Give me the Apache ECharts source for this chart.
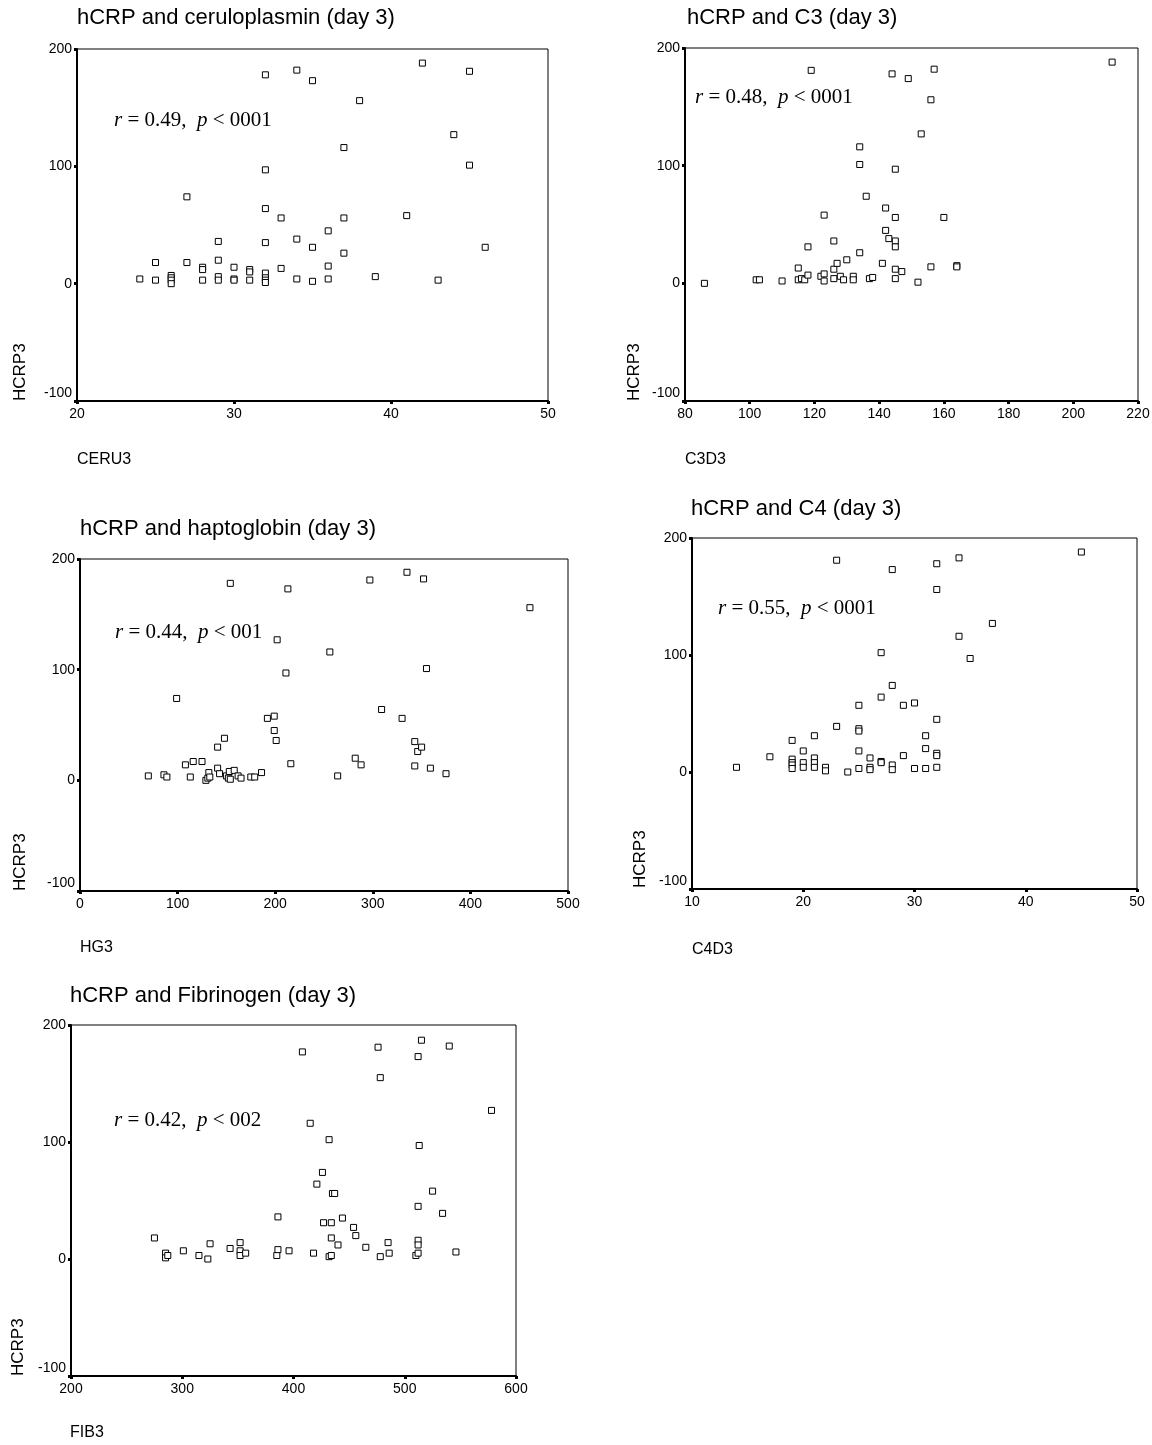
<!DOCTYPE html>
<html>
<head>
<meta charset="utf-8">
<title>hCRP correlations (day 3)</title>
<script src="https://cdn.jsdelivr.net/npm/echarts@6/dist/echarts.min.js"></script>
<style>
  html, body { margin: 0; padding: 0; background: #fff; }
  #chart { width: 1152px; height: 1445px; }
</style>
</head>
<body>
<div id="chart"></div>
<script>
// values, [x, HCRP3]
var ceruloplasmin = [
  [24, 4], [25, 18], [25, 3], [26, 7], [26, 5], [26, 3], [26, 0], [27, 74], [27, 18],
  [28, 14], [28, 12], [28, 3], [29, 36], [29, 20], [29, 6], [29, 3], [30, 14], [30, 4],
  [30, 3], [31, 12], [31, 10], [31, 3], [32, 178], [32, 97], [32, 64], [32, 35],
  [32, 9], [32, 5], [32, 3], [32, 1], [33, 56], [33, 13], [34, 182], [34, 38], [34, 4],
  [35, 173], [35, 31], [35, 2], [36, 45], [36, 15], [36, 4], [37, 116], [37, 56],
  [37, 26], [38, 156], [39, 6], [41, 58], [42, 188], [43, 3], [44, 127], [45, 181],
  [45, 101], [46, 31]
];
var c3 = [
  [86, 0], [102, 3], [103, 3], [110, 2], [115, 13], [115, 3], [116, 4], [117, 3],
  [118, 31], [118, 7], [119, 181], [122, 6], [123, 58], [123, 8], [123, 2], [126, 36],
  [126, 12], [126, 4], [127, 17], [128, 6], [129, 3], [130, 20], [132, 6], [132, 3],
  [134, 116], [134, 101], [134, 26], [136, 74], [137, 4], [138, 5], [141, 17], [142, 64],
  [142, 45], [143, 38], [144, 178], [145, 97], [145, 56], [145, 36], [145, 31], [145, 12],
  [145, 4], [147, 10], [149, 174], [152, 1], [153, 127], [156, 156], [156, 14], [157, 182],
  [160, 56], [164, 15], [164, 14], [212, 188]
];
var haptoglobin = [
  [70, 4], [86, 5], [89, 3], [99, 74], [108, 14], [113, 3], [116, 17], [125, 17],
  [129, 0], [131, 2], [132, 7], [133, 3], [141, 30], [141, 11], [143, 6], [148, 38],
  [150, 4], [152, 2], [153, 8], [154, 1], [154, 178], [158, 9], [162, 4], [165, 2],
  [175, 3], [179, 3], [186, 7], [192, 56], [199, 58], [199, 45], [201, 36], [202, 127],
  [211, 97], [213, 173], [216, 15], [256, 116], [264, 4], [282, 20], [288, 14], [297, 181],
  [309, 64], [330, 56], [335, 188], [343, 35], [343, 13], [346, 26], [350, 30], [352, 182],
  [355, 101], [359, 11], [375, 6], [461, 156]
];
var c4 = [
  [14, 4], [17, 13], [19, 27], [19, 11], [19, 8], [19, 6], [19, 3], [20, 18], [20, 8],
  [20, 4], [21, 31], [21, 12], [21, 8], [21, 4], [22, 4], [22, 1], [23, 181], [23, 39],
  [24, 0], [25, 57], [25, 37], [25, 35], [25, 18], [25, 3], [26, 12], [26, 4], [26, 2],
  [27, 102], [27, 64], [27, 9], [27, 8], [28, 173], [28, 74], [28, 6], [28, 2], [29, 57],
  [29, 14], [30, 59], [30, 3], [31, 31], [31, 20], [31, 3], [32, 178], [32, 156],
  [32, 45], [32, 16], [32, 14], [32, 4], [34, 183], [34, 116], [35, 97], [37, 127],
  [45, 188]
];
var fibrinogen = [
  [275, 18], [285, 5], [285, 1], [287, 3], [301, 7], [315, 3], [323, 0], [325, 13],
  [343, 9], [352, 14], [352, 7], [352, 3], [357, 5], [385, 3], [386, 36], [386, 8],
  [396, 7], [408, 177], [415, 116], [418, 5], [421, 64], [426, 74], [427, 31], [432, 102],
  [432, 2], [434, 31], [434, 18], [434, 3], [435, 56], [437, 56], [440, 12], [444, 35],
  [454, 27], [456, 20], [465, 10], [476, 181], [478, 155], [478, 2], [485, 14], [486, 5],
  [510, 3], [512, 173], [512, 45], [512, 16], [512, 12], [512, 5], [513, 97], [515, 187],
  [525, 58], [534, 39], [540, 182], [546, 6], [578, 127]
];

var titles = [
  'hCRP and ceruloplasmin (day 3)', 'hCRP and C3 (day 3)', 'hCRP and haptoglobin (day 3)',
  'hCRP and C4 (day 3)', 'hCRP and Fibrinogen (day 3)'
];
var xNames = ['CERU3', 'C3D3', 'HG3', 'C4D3', 'FIB3'];
var rValues = ['0.49', '0.48', '0.44', '0.55', '0.42'];
var pValues = ['0001', '0001', '001', '0001', '002'];
// x axis range: [min, max, interval]
var xRanges = [[20, 50, 10], [80, 220, 20], [0, 500, 100], [10, 50, 10], [200, 600, 100]];
var yRange = [-100, 200, 100];
var yName = 'HCRP3';

// pixel layout of each panel (plot box, title, note, axis names)
var layout = [
  { box: [77, 49, 471, 352], title: [77, 7], note: [114, 122], xName: [77, 460], yName: [20, 401] },
  { box: [685, 48, 453, 353], title: [687, 7], note: [695, 99], xName: [685, 460], yName: [634, 401] },
  { box: [80, 559, 488, 332], title: [80, 518], note: [115, 634], xName: [80, 948], yName: [20, 891] },
  { box: [692, 538, 445, 351], title: [691, 498], note: [718, 610], xName: [692, 950], yName: [640, 888] },
  { box: [71, 1025, 445, 351], title: [70, 985], note: [114, 1122], xName: [70, 1433], yName: [18, 1376] }
];
var datasets = [ceruloplasmin, c3, haptoglobin, c4, fibrinogen];

var SANS = 'Arial, "Liberation Sans", Helvetica, sans-serif';
var SERIF = '"Times New Roman", "Liberation Serif", serif';

var option = {
  backgroundColor: '#fff',
  animation: false,
  title: [],
  grid: [],
  xAxis: [],
  yAxis: [],
  series: [],
  graphic: []
};

layout.forEach(function (p, i) {
  option.title.push({
    text: titles[i],
    left: p.title[0],
    top: p.title[1],
    padding: 0,
    textStyle: { fontFamily: SANS, fontSize: 22, fontWeight: 'normal', color: '#000' }
  });
  option.grid.push({
    left: p.box[0], top: p.box[1], width: p.box[2], height: p.box[3],
    show: true, borderColor: '#000', borderWidth: 1, backgroundColor: '#fff',
    containLabel: false, outerBoundsMode: 'none'
  });
  var xr = xRanges[i];
  option.xAxis.push({
    type: 'value', gridIndex: i, min: xr[0], max: xr[1], interval: xr[2],
    axisLine: { show: true, onZero: false, lineStyle: { color: '#000', width: 2 } },
    axisTick: { show: true, length: 3, lineStyle: { color: '#000', width: 3 } },
    axisLabel: { show: true, margin: 6, color: '#000', fontFamily: SANS, fontSize: 14 },
    splitLine: { show: false }
  });
  option.yAxis.push({
    type: 'value', gridIndex: i, min: yRange[0], max: yRange[1], interval: yRange[2],
    axisLine: { show: true, onZero: false, lineStyle: { color: '#000', width: 2 } },
    axisTick: { show: true, length: 3, lineStyle: { color: '#000', width: 3 } },
    axisLabel: {
      show: true, margin: 5, color: '#000', fontFamily: SANS, fontSize: 14,
      // SPSS nudges the bottom label up above the corner
      formatter: function (v) { return v === yRange[0] ? '{lo|' + v + '}' : String(v); },
      rich: { lo: { padding: [0, 0, 16, 0], fontFamily: SANS, fontSize: 14, color: '#000' } }
    },
    splitLine: { show: false }
  });
  option.series.push({
    type: 'scatter', xAxisIndex: i, yAxisIndex: i,
    data: datasets[i],
    symbol: 'rect', symbolSize: 6,
    itemStyle: { color: '#fff', borderColor: '#000', borderWidth: 1, opacity: 1 },
    emphasis: { disabled: true }
  });
  // r / p annotation
  option.graphic.push({
    type: 'text', left: p.note[0], top: p.note[1] - 12,
    style: {
      text: '{i|r} = ' + rValues[i] + ',  {i|p} < ' + pValues[i],
      font: '21px ' + SERIF, fill: '#000',
      rich: { i: { fontStyle: 'italic', fontFamily: SERIF, fontSize: 21 } }
    }
  });
  // x axis name, under the plot on the left
  option.graphic.push({
    type: 'text', x: p.xName[0], y: p.xName[1],
    style: { text: xNames[i], font: '16px ' + SANS, fill: '#000', textVerticalAlign: 'middle' }
  });
  // y axis name, rotated, sitting at the bottom of the axis
  option.graphic.push({
    type: 'text', x: p.yName[0], y: p.yName[1], rotation: Math.PI / 2,
    style: { text: yName, font: '17px ' + SANS, fill: '#000', textAlign: 'left', textVerticalAlign: 'middle' }
  });
});

var chart = echarts.init(document.getElementById('chart'), null, { renderer: 'canvas' });
chart.setOption(option);
</script>
</body>
</html>
